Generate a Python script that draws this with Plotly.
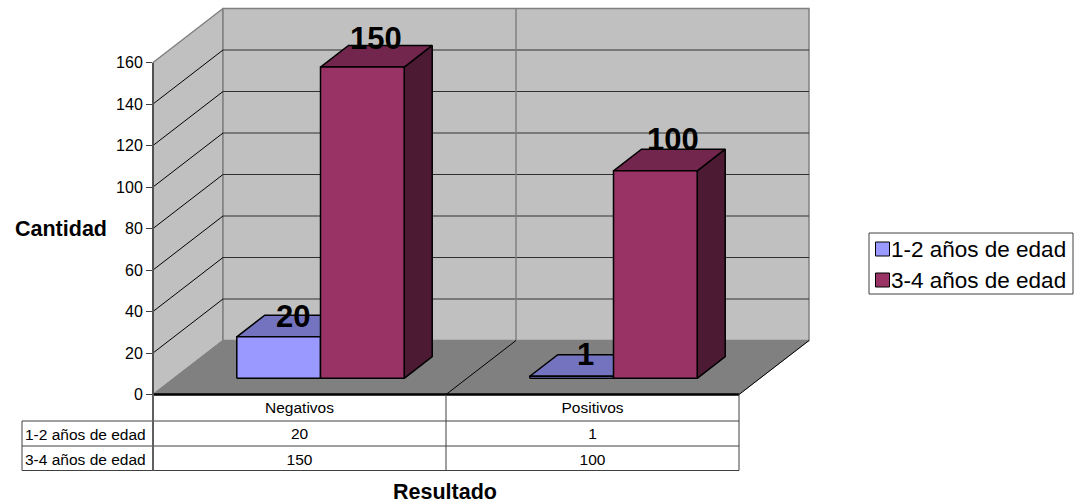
import plotly.graph_objects as go

# Chart data
categories = ["Negativos", "Positivos"]
series_names = ["1-2 años de edad", "3-4 años de edad"]
values_young = [20, 1]
values_old = [150, 100]
value_ticks = [0, 20, 40, 60, 80, 100, 120, 140, 160]

# Oblique projection of the 3-D box, and the pixel scale of the page axes
WIDTH, HEIGHT = 1080, 504
X0_PX, CAT_PX = 153.0, 293.0
V0_PX, UNIT_PX = 394.5, 2.075
DEPTH_DX, DEPTH_DY = 70.0 / CAT_PX, 54.0 / UNIT_PX
V_MAX = value_ticks[-1]
BAR_WIDTH = 1 / 3.5
BAR_D0, BAR_D1 = 0.3, 0.7

FONT = "Liberation Sans, Arial, sans-serif"
COLORS = [
    {"front": "#9999FF", "top": "#7373BF", "side": "#5C5C99"},
    {"front": "#993366", "top": "#73264D", "side": "#4D1A33"},
]
# Nudges of the bold value labels, in pixels
label_lift = [[-1, 0], [7, 10]]
label_side = [[0, 0], [0, 4]]


def x_of(px):
    return (px - X0_PX) / CAT_PX


def v_of(py):
    return (V0_PX - py) / UNIT_PX


def project(x, v, d=0.0):
    return x + d * DEPTH_DX, v + d * DEPTH_DY


fig = go.Figure()


def poly(points, fill=None, color="black", width=1.0, closed=True):
    pts = [project(*p) for p in points]
    if closed:
        pts.append(pts[0])
    fig.add_trace(go.Scatter(
        x=[p[0] for p in pts], y=[p[1] for p in pts], mode="lines",
        fill="toself" if fill else None, fillcolor=fill,
        line=dict(color=color, width=width), hoverinfo="skip", showlegend=False,
    ))


n = len(categories)

# Walls and floor
poly([(0, 0, 0), (0, 0, 1), (0, V_MAX, 1), (0, V_MAX, 0)], "#C0C0C0", "#808080", 1.5)
poly([(0, 0, 1), (n, 0, 1), (n, V_MAX, 1), (0, V_MAX, 1)], "#C0C0C0", "#808080", 1.5)
for t in value_ticks[1:-1]:
    poly([(0, t, 1), (n, t, 1)], color="#303030", width=1, closed=False)
for t in value_ticks[1:-1]:
    poly([(0, t, 0), (0, t, 1)], color="black", width=1, closed=False)
poly([(1, 0, 1), (1, V_MAX, 1)], color="#808080", width=1.5, closed=False)
poly([(0, 0, 0), (n, 0, 0), (n, 0, 1), (0, 0, 1)], "#808080", "#808080", 1)
poly([(1, 0, 0), (1, 0, 1)], color="black", width=1, closed=False)
poly([(n, 0, 0), (n, 0, 1)], color="black", width=1, closed=False)
poly([(0, 0, 0), (n, 0, 0)], color="black", width=2.5, closed=False)

# Bars: side and top faces first, front face over them
annotations = []
for s, vals in enumerate([values_young, values_old]):
    for i, val in enumerate(vals):
        x0 = i + 0.5 - BAR_WIDTH + s * BAR_WIDTH
        x1 = x0 + BAR_WIDTH
        c = COLORS[s]
        poly([(x1, 0, BAR_D0), (x1, 0, BAR_D1), (x1, val, BAR_D1), (x1, val, BAR_D0)], c["side"], "black", 1.5)
        poly([(x0, val, BAR_D0), (x1, val, BAR_D0), (x1, val, BAR_D1), (x0, val, BAR_D1)], c["top"], "black", 1.5)
        poly([(x0, 0, BAR_D0), (x1, 0, BAR_D0), (x1, val, BAR_D0), (x0, val, BAR_D0)], c["front"], "black", 1.5)

for s, vals in enumerate([values_young, values_old]):
    for i, val in enumerate(vals):
        x0 = i + 0.5 - BAR_WIDTH + s * BAR_WIDTH
        lx, lv = project(x0 + BAR_WIDTH / 2, val, (BAR_D0 + BAR_D1) / 2)
        _, top_v = project(0, val, BAR_D1)
        annotations.append(dict(
            x=lx, y=top_v, xref="x", yref="y", text=f"<b>{val}</b>", showarrow=False,
            xanchor="center", yanchor="middle",
            xshift=label_side[s][i], yshift=label_lift[s][i],
            font=dict(family=FONT, size=31, color="black"),
        ))

# Data table under the chart
ROW_PX = [394.5, 421.0, 446.0, 470.5]
TABLE_LEFT = x_of(22)
row_v = [v_of(p) for p in ROW_PX]
for r in (1, 2, 3):
    poly([(TABLE_LEFT, row_v[r]), (n, row_v[r])], color="#404040", width=1, closed=False)
poly([(TABLE_LEFT, row_v[1]), (TABLE_LEFT, row_v[3])], color="#404040", width=1, closed=False)
poly([(0, 0), (0, row_v[3])], color="#606060", width=2, closed=False)
for k in range(1, n + 1):
    poly([(k, 0), (k, row_v[3])], color="#404040", width=1, closed=False)

table_font = dict(family=FONT, size=15.5, color="black")
head_y = v_of(409)
row_y = [v_of(435.5), v_of(461)]
cell_x, cell_y, cell_text = [], [], []
for i, cat in enumerate(categories):
    cell_x += [i + 0.5] * 3
    cell_y += [head_y, row_y[0], row_y[1]]
    cell_text += [cat, str(values_young[i]), str(values_old[i])]
fig.add_trace(go.Scatter(
    x=cell_x, y=cell_y, text=cell_text, mode="text", textposition="middle center",
    textfont=table_font, hoverinfo="skip", showlegend=False,
))
fig.add_trace(go.Scatter(
    x=[x_of(25)] * 2, y=[v_of(436.5), v_of(461.5)],
    text=series_names, mode="text", textposition="middle right",
    textfont=table_font, hoverinfo="skip", showlegend=False,
))

# Key at the right of the chart
BOX_X = x_of(869), x_of(1073)
BOX_V = v_of(233), v_of(294)
poly([(BOX_X[0], BOX_V[0]), (BOX_X[1], BOX_V[0]), (BOX_X[1], BOX_V[1]), (BOX_X[0], BOX_V[1])],
     "white", "#404040", 1)
for s, name in enumerate(series_names):
    ky = v_of(249 + 31 * s)
    fig.add_trace(go.Scatter(
        x=[x_of(882.5)], y=[ky], mode="markers", name=name,
        marker=dict(symbol="square", size=14, color=COLORS[s]["front"], line=dict(color="black", width=1)),
        hoverinfo="skip", showlegend=False,
    ))
    fig.add_trace(go.Scatter(
        x=[x_of(891)], y=[v_of(251.5 + 31 * s)], mode="text", text=[name], textposition="middle right",
        textfont=dict(family=FONT, size=22.5, color="black"), hoverinfo="skip", showlegend=False,
    ))

# Hidden trace that gives the value axis its own subplot
fig.add_trace(go.Scatter(x=[None], y=[0], yaxis="y2", hoverinfo="skip", showlegend=False))

annotations += [
    dict(x=60.5 / WIDTH, y=1 - 229 / HEIGHT, xref="paper", yref="paper", text="<b>Cantidad</b>", showarrow=False,
         xanchor="center", yanchor="middle", font=dict(family=FONT, size=21.5, color="black")),
    dict(x=445 / WIDTH, y=1 - 492 / HEIGHT, xref="paper", yref="paper", text="<b>Resultado</b>", showarrow=False,
         xanchor="center", yanchor="middle", font=dict(family=FONT, size=21.5, color="black")),
]

fig.update_layout(
    width=WIDTH, height=HEIGHT, margin=dict(l=0, r=0, t=0, b=0, autoexpand=False),
    paper_bgcolor="white", plot_bgcolor="rgba(0,0,0,0)", showlegend=False,
    annotations=annotations,
    xaxis=dict(range=[x_of(0), x_of(WIDTH)], visible=False, domain=[0, 1]),
    yaxis=dict(range=[v_of(HEIGHT), v_of(0)], visible=False, domain=[0, 1]),
    yaxis2=dict(
        domain=[1 - V0_PX / HEIGHT, 1 - (V0_PX - V_MAX * UNIT_PX) / HEIGHT],
        range=[0, V_MAX], anchor="free", position=X0_PX / WIDTH, side="left",
        tickmode="array", tickvals=value_ticks, ticktext=[str(t) for t in value_ticks],
        ticks="outside", ticklen=6, tickwidth=1, tickcolor="#404040",
        showline=True, linecolor="#505050", linewidth=2, showgrid=False, zeroline=False,
        tickfont=dict(family=FONT, size=16, color="black"),
    ),
)

fig.write_html("out.html")
